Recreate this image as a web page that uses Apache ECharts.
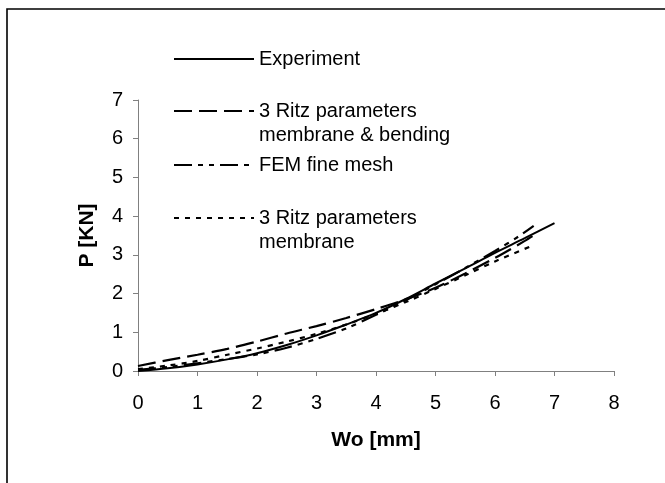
<!DOCTYPE html>
<html>
<head>
<meta charset="utf-8">
<script src="https://cdn.jsdelivr.net/npm/echarts@6/dist/echarts.min.js"></script>
<style>
  html, body { margin: 0; padding: 0; background: #fff; }
  #chart { width: 665px; height: 483px; }
</style>
</head>
<body>
<div id="chart"></div>
<script>
// deflection Wo [mm] vs load P [KN]
const expW = [0, 0.5, 1, 1.5, 2, 2.5, 3, 3.5, 4, 4.5, 5, 5.5, 6, 6.5, 7]
const expP = [0, 0.07, 0.17, 0.3, 0.46, 0.67, 0.92, 1.2, 1.5, 1.86, 2.26, 2.65, 3.05, 3.43, 3.82]

const ritzMbW = [0, 0.5, 1, 1.5, 2, 2.5, 3, 3.5, 4, 4.5, 5, 5.5, 6, 6.5, 6.7]
const ritzMbP = [0.13, 0.28, 0.42, 0.57, 0.76, 0.97, 1.16, 1.37, 1.6, 1.85, 2.15, 2.52, 2.92, 3.36, 3.55]

const femW = [0, 0.5, 1, 1.5, 2, 2.5, 3, 3.5, 4, 4.5, 5, 5.5, 6, 6.4, 6.65]
const femP = [0.03, 0.1, 0.2, 0.31, 0.43, 0.6, 0.83, 1.1, 1.45, 1.83, 2.24, 2.66, 3.1, 3.48, 3.75]

const ritzMW = [0, 0.5, 1, 1.5, 2, 2.5, 3, 3.5, 4, 4.5, 5, 5.5, 6, 6.6]
const ritzMP = [0.05, 0.14, 0.26, 0.42, 0.58, 0.76, 0.96, 1.2, 1.48, 1.78, 2.12, 2.47, 2.83, 3.22]

const names = ['Experiment', '3 Ritz parameters\nmembrane & bending', 'FEM fine mesh', '3 Ritz parameters\nmembrane']
const xTicks = [0, 8, 1]
const yTicks = [0, 7, 1]

const zip = (a, b) => a.map((v, i) => [v, b[i]])
const font = 'Liberation Sans, Arial, sans-serif'

const chart = echarts.init(document.getElementById('chart'))

// two-line names get an empty first line so the key sits on the first text line
const mkLegend = (name, top, twoLine) => ({
  data: [name],
  left: 173,
  top: top,
  padding: 0,
  itemWidth: 80,
  itemHeight: 14,
  selectedMode: false,
  itemStyle: { opacity: 0 },
  formatter: n => twoLine ? '\n' + n : n,
  textStyle: { fontFamily: font, fontSize: 20, color: '#000', lineHeight: 24 }
})

const mkLine = (name, data, type, width) => ({
  name: name,
  type: 'line',
  data: data,
  symbol: 'none',
  smooth: 0.3,
  color: '#000',
  lineStyle: { color: '#000', width: width, type: type }
})

const option = {
  animation: false,
  backgroundColor: '#fff',
  graphic: [{
    type: 'rect',
    shape: { x: 7, y: 9, width: 700, height: 520 },
    style: { fill: 'none', stroke: '#000', lineWidth: 1.6 }
  }],
  legend: [
    mkLegend(names[0], 47, false),
    mkLegend(names[1], 75, true),
    mkLegend(names[2], 153, false),
    mkLegend(names[3], 182, true)
  ],
  grid: { left: 138, right: 51, top: 100, bottom: 112 },
  xAxis: {
    type: 'value',
    min: xTicks[0], max: xTicks[1], interval: xTicks[2],
    name: 'Wo [mm]',
    nameLocation: 'middle',
    nameGap: 59,
    nameTextStyle: { fontFamily: font, fontSize: 21, fontWeight: 'bold', color: '#000' },
    axisLine: { lineStyle: { color: '#808080', width: 1 } },
    axisTick: { show: true, length: 5, lineStyle: { color: '#808080' } },
    axisLabel: { fontFamily: font, fontSize: 20, color: '#000', margin: 22 },
    splitLine: { show: false }
  },
  yAxis: {
    type: 'value',
    min: yTicks[0], max: yTicks[1], interval: yTicks[2],
    name: 'P [KN]',
    nameLocation: 'middle',
    nameGap: 40,
    nameTextStyle: { fontFamily: font, fontSize: 21, fontWeight: 'bold', color: '#000' },
    axisLine: { show: true, lineStyle: { color: '#808080', width: 1 } },
    axisTick: { show: true, length: 5, lineStyle: { color: '#808080' } },
    axisLabel: { fontFamily: font, fontSize: 20, color: '#000', margin: 15 },
    splitLine: { show: false }
  },
  series: [
    mkLine(names[0], zip(expW, expP), 'solid', 2),
    mkLine(names[1], zip(ritzMbW, ritzMbP), [18, 7], 2.2),
    mkLine(names[2], zip(femW, femP), [18, 6, 5, 6, 5, 6], 2.2),
    mkLine(names[3], zip(ritzMW, ritzMP), [5, 6], 2.2)
  ]
}

chart.setOption(option)
</script>
</body>
</html>
